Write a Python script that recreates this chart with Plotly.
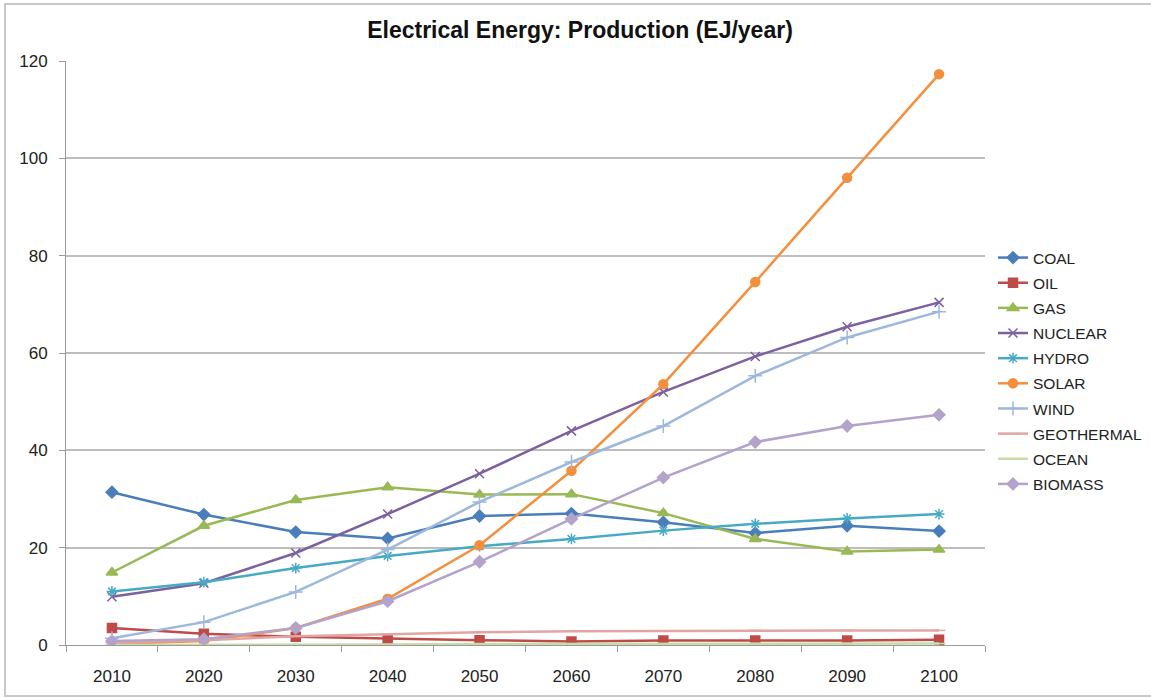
import plotly.graph_objects as go

years = ["2010", "2020", "2030", "2040", "2050", "2060", "2070", "2080", "2090", "2100"]

coal = [31.4, 26.8, 23.2, 21.9, 26.5, 27.0, 25.2, 23.0, 24.5, 23.4]
oil = [3.5, 2.3, 1.7, 1.3, 1.0, 0.7, 0.9, 0.9, 0.9, 1.1]
gas = [14.9, 24.5, 29.8, 32.4, 30.9, 31.0, 27.1, 21.8, 19.2, 19.6]
nuclear = [9.9, 12.7, 18.9, 26.9, 35.2, 44.0, 52.0, 59.3, 65.4, 70.4]
hydro = [11.0, 12.9, 15.8, 18.3, 20.3, 21.8, 23.5, 24.9, 26.0, 26.9]
solar = [0.2, 0.8, 3.5, 9.5, 20.5, 35.8, 53.6, 74.6, 96.0, 117.3]
wind = [1.4, 4.7, 10.9, 19.6, 29.4, 37.6, 45.0, 55.3, 63.2, 68.5]
geothermal = [0.5, 1.0, 1.8, 2.2, 2.6, 2.8, 2.9, 3.0, 3.0, 3.0]
ocean = [0.0, 0.0, 0.1, 0.1, 0.2, 0.2, 0.2, 0.3, 0.3, 0.3]
biomass = [0.8, 1.2, 3.5, 9.0, 17.1, 25.9, 34.4, 41.7, 45.0, 47.3]

series = [
    ("COAL", coal, "#4A7EBB", "diamond", 9),
    ("OIL", oil, "#BE4B48", "square", 9),
    ("GAS", gas, "#98B954", "triangle-up", 10),
    ("NUCLEAR", nuclear, "#7D60A0", "x-thin-open", 9),
    ("HYDRO", hydro, "#46AAC5", "asterisk-open", 9),
    ("SOLAR", solar, "#F38F3D", "circle", 9),
    ("WIND", wind, "#9DB8DC", "cross-thin-open", 10),
    ("GEOTHERMAL", geothermal, "#E2A5A4", "line-ew-open", 9),
    ("OCEAN", ocean, "#C7DCA6", "line-ew-open", 9),
    ("BIOMASS", biomass, "#B3A3CB", "diamond", 9),
]

fig = go.Figure()
for name, vals, color, sym, size in series:
    fig.add_trace(go.Scatter(
        x=years, y=vals, name=name, mode="lines+markers",
        line=dict(color=color, width=2.5),
        marker=dict(symbol=sym, size=size, color=color,
                    line=dict(color=color, width=1.5)),
        legendgroup=name,
    ))

W, H = 1151, 698
L, R, T, B = 66, 166, 61, 53
pw, ph = W - L - R, H - T - B

fig.update_layout(
    width=W, height=H,
    margin=dict(l=L, r=R, t=T, b=B, autoexpand=False),
    paper_bgcolor="white", plot_bgcolor="white",
    font=dict(family="Liberation Sans, Arial, sans-serif", color="#222222", size=17),
    title=dict(text="<b>Electrical Energy: Production (EJ/year)</b>",
               x=580 / W, xanchor="center", y=1 - 30 / H, yanchor="middle",
               font=dict(size=23, color="#111111")),
    xaxis=dict(type="category", range=[-0.5, 9.5], showgrid=False,
               showline=True, linecolor="#9a9a9a", linewidth=1,
               ticks="outside", tickson="boundaries", ticklen=6, tickcolor="#9a9a9a",
               tickfont=dict(size=17), ticklabelstandoff=16, zeroline=False),
    yaxis=dict(range=[0, 120], dtick=20, showgrid=True, gridcolor="#bdbdbd", gridwidth=1.5,
               showline=True, linecolor="#9a9a9a", linewidth=1,
               ticks="outside", ticklen=6, tickcolor="#9a9a9a",
               tickfont=dict(size=17), ticklabelstandoff=8, zeroline=False),
    legend=dict(x=(993 - L) / pw, xanchor="left", y=(645 - 241) / ph, yanchor="top",
                font=dict(size=15.5, color="#222222"), tracegroupgap=2,
                bgcolor="rgba(0,0,0,0)", itemwidth=30),
    showlegend=True,
)

# chart border
fig.add_shape(type="rect", xref="paper", yref="paper",
              x0=(5 - L) / pw, x1=(1160 - L) / pw,
              y0=(645 - 696) / ph, y1=(645 - 4) / ph,
              line=dict(color="#c8c8c8", width=2), layer="below")

fig.write_html("out.html")
